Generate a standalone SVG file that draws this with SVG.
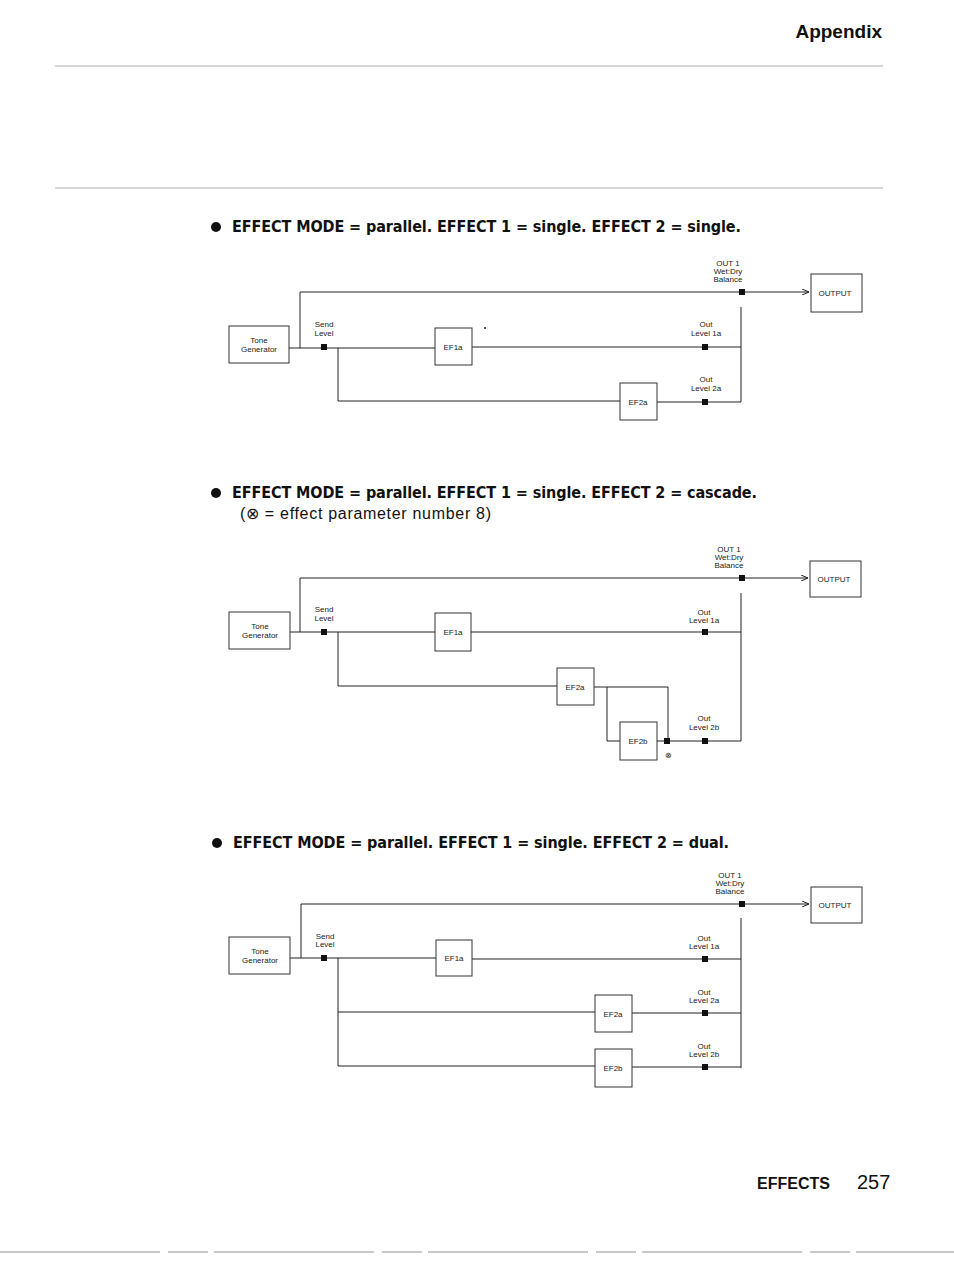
<svg xmlns="http://www.w3.org/2000/svg" width="954" height="1262" viewBox="0 0 954 1262">
<style>
.b{fill:#fff;stroke:#333;stroke-width:1}
.l{fill:none;stroke:#222;stroke-width:1}
.t{font-family:"Liberation Sans",Arial,sans-serif;font-size:8px;fill:#222;text-anchor:middle}
.h{font-family:"Liberation Sans Narrow","DejaVu Sans Condensed","Liberation Sans",sans-serif;font-weight:bold;font-size:16px;fill:#111}
.sq{fill:#111}
</style>
<defs><marker id="a" markerWidth="8" markerHeight="6" refX="7" refY="3" orient="auto"><path d="M0,0 L7,3 L0,6" fill="none" stroke="#222"/></marker></defs>
<rect width="954" height="1262" fill="#fff"/>
<text x="882" y="38" text-anchor="end" font-family="Liberation Sans,Arial,sans-serif" font-weight="bold" font-size="19" fill="#111">Appendix</text>
<line x1="55" y1="66" x2="883" y2="66" stroke="#999" stroke-width="0.8"/>
<line x1="55" y1="188" x2="883" y2="188" stroke="#999" stroke-width="0.8"/>
<line x1="0" y1="1252" x2="954" y2="1252" stroke="#777" stroke-width="0.8" stroke-dasharray="160,8,40,6"/>
<text x="757" y="1189" font-family="Liberation Sans,Arial,sans-serif" font-weight="bold" font-size="16" fill="#111">EFFECTS</text>
<text x="857" y="1189" font-family="Liberation Sans,Arial,sans-serif" font-size="20" fill="#111">257</text>

<circle cx="216" cy="227" r="5" fill="#111"/>
<text class="h" x="232" y="232" textLength="509">EFFECT MODE = parallel. EFFECT 1 = single. EFFECT 2 = single.</text>
<circle cx="216" cy="493" r="5" fill="#111"/>
<text class="h" x="232" y="498" textLength="525">EFFECT MODE = parallel. EFFECT 1 = single. EFFECT 2 = cascade.</text>
<text x="240" y="519" font-family="Liberation Sans Narrow,Liberation Sans,sans-serif" font-size="16" fill="#111" textLength="251">(⊗ = effect parameter number 8)</text>
<circle cx="217" cy="843" r="5" fill="#111"/>
<text class="h" x="233" y="848" textLength="496">EFFECT MODE = parallel. EFFECT 1 = single. EFFECT 2 = dual.</text>

<!-- Diagram 1 -->
<g id="connectors1">
<path class="l" d="M289,348 H435 M300,348 V292 H740" />
<path class="l" d="M745,292 H809" marker-end="url(#a)"/>
<path class="l" d="M472,347 H741 M741,307 V402 M338,348 V401 H620 M657,402 H741"/>
</g>
<g id="d1-tone"><rect class="b" x="229" y="326" width="60" height="37"/><text class="t" x="259" y="343">Tone</text><text class="t" x="259" y="352">Generator</text></g>
<g id="d1-ef1a"><rect class="b" x="435" y="328" width="37" height="37"/><text class="t" x="453" y="350">EF1a</text></g>
<g id="d1-ef2a"><rect class="b" x="620" y="383" width="37" height="37"/><text class="t" x="638" y="405">EF2a</text></g>
<g id="d1-out"><rect class="b" x="811" y="274" width="51" height="38"/><text class="t" x="835" y="296">OUTPUT</text></g>
<g id="d1-labels">
<text class="t" x="324" y="327">Send</text><text class="t" x="324" y="336">Level</text>
<text class="t" x="706" y="327">Out</text><text class="t" x="706" y="336">Level 1a</text>
<text class="t" x="706" y="382">Out</text><text class="t" x="706" y="391">Level 2a</text>
<text class="t" x="728" y="266">OUT 1</text><text class="t" x="728" y="274">Wet:Dry</text><text class="t" x="728" y="282">Balance</text>
<rect class="sq" x="321" y="344" width="6" height="6"/><rect class="sq" x="702" y="344" width="6" height="6"/><rect class="sq" x="702" y="399" width="6" height="6"/><rect class="sq" x="739" y="289" width="6" height="6"/>
<circle cx="485" cy="328" r="1" fill="#222"/>
</g>

<!-- Diagram 2 -->
<g id="connectors2">
<path class="l" d="M290,632 H435 M300,632 V578 H740 M471,632 H741 M741,593 V741 M338,632 V686 H557 M594,687 H668 V739 M607,687 V741 H620 M657,741 H741"/>
<path class="l" d="M745,578 H808" marker-end="url(#a)"/>
</g>
<g id="d2-tone"><rect class="b" x="229" y="612" width="61" height="37"/><text class="t" x="260" y="629">Tone</text><text class="t" x="260" y="638">Generator</text></g>
<g id="d2-ef1a"><rect class="b" x="435" y="613" width="36" height="38"/><text class="t" x="453" y="635">EF1a</text></g>
<g id="d2-ef2a"><rect class="b" x="557" y="668" width="37" height="37"/><text class="t" x="575" y="690">EF2a</text></g>
<g id="d2-ef2b"><rect class="b" x="620" y="722" width="37" height="38"/><text class="t" x="638" y="744">EF2b</text></g>
<g id="d2-out"><rect class="b" x="810" y="561" width="51" height="36"/><text class="t" x="834" y="582">OUTPUT</text></g>
<g id="d2-labels">
<text class="t" x="324" y="612">Send</text><text class="t" x="324" y="621">Level</text>
<text class="t" x="704" y="615">Out</text><text class="t" x="704" y="623">Level 1a</text>
<text class="t" x="704" y="721">Out</text><text class="t" x="704" y="730">Level 2b</text>
<text class="t" x="729" y="552">OUT 1</text><text class="t" x="729" y="560">Wet:Dry</text><text class="t" x="729" y="568">Balance</text>
<text class="t" x="668" y="758">⊗</text>
<rect class="sq" x="321" y="629" width="6" height="6"/><rect class="sq" x="702" y="629" width="6" height="6"/><rect class="sq" x="664" y="738" width="6" height="6"/><rect class="sq" x="702" y="738" width="6" height="6"/><rect class="sq" x="739" y="575" width="6" height="6"/>
</g>

<!-- Diagram 3 -->
<g id="connectors3">
<path class="l" d="M290,958 H436 M301,958 V904 H740 M472,959 H741 M741,918 V1068 M338,958 V1066 H595 M338,1012 H595 M632,1013 H741 M632,1067 H741"/>
<path class="l" d="M745,904 H809" marker-end="url(#a)"/>
</g>
<g id="d3-tone"><rect class="b" x="229" y="937" width="61" height="37"/><text class="t" x="260" y="954">Tone</text><text class="t" x="260" y="963">Generator</text></g>
<g id="d3-ef1a"><rect class="b" x="436" y="940" width="36" height="36"/><text class="t" x="454" y="961">EF1a</text></g>
<g id="d3-ef2a"><rect class="b" x="595" y="995" width="37" height="37"/><text class="t" x="613" y="1017">EF2a</text></g>
<g id="d3-ef2b"><rect class="b" x="595" y="1049" width="37" height="38"/><text class="t" x="613" y="1071">EF2b</text></g>
<g id="d3-out"><rect class="b" x="811" y="887" width="51" height="36"/><text class="t" x="835" y="908">OUTPUT</text></g>
<g id="d3-labels">
<text class="t" x="325" y="939">Send</text><text class="t" x="325" y="947">Level</text>
<text class="t" x="704" y="941">Out</text><text class="t" x="704" y="949">Level 1a</text>
<text class="t" x="704" y="995">Out</text><text class="t" x="704" y="1003">Level 2a</text>
<text class="t" x="704" y="1049">Out</text><text class="t" x="704" y="1057">Level 2b</text>
<text class="t" x="730" y="878">OUT 1</text><text class="t" x="730" y="886">Wet:Dry</text><text class="t" x="730" y="894">Balance</text>
<rect class="sq" x="321" y="955" width="6" height="6"/><rect class="sq" x="702" y="956" width="6" height="6"/><rect class="sq" x="702" y="1010" width="6" height="6"/><rect class="sq" x="702" y="1064" width="6" height="6"/><rect class="sq" x="739" y="901" width="6" height="6"/>
</g>
</svg>
